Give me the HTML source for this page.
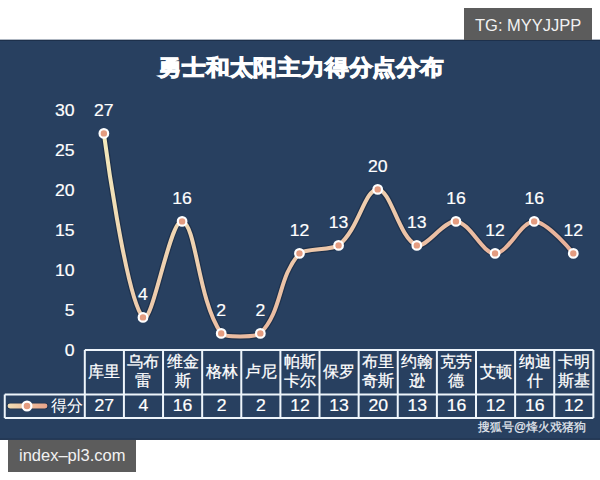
<!DOCTYPE html>
<html><head><meta charset="utf-8"><style>
html,body{margin:0;padding:0;width:600px;height:480px;overflow:hidden;background:#ffffff;position:relative}
svg text{font-family:"Liberation Sans",sans-serif}
.num{font-size:15.6px;fill:#ffffff;stroke:#ffffff;stroke-width:0.2px}
.cj{font-size:15.5px;fill:#ffffff;stroke:#ffffff;stroke-width:0.25px}
.badge{position:absolute;background:#5c5c5c;color:#f2f2f2;font-family:"Liberation Sans",sans-serif;font-size:16.5px;line-height:1;white-space:nowrap}
</style></head><body>
<svg width="600" height="480" viewBox="0 0 600 480" style="position:absolute;left:0;top:0">
<defs><linearGradient id="lg" gradientUnits="objectBoundingBox" x1="0" y1="0" x2="1" y2="1">
<stop offset="0" stop-color="#f3eabc"/><stop offset="0.45" stop-color="#eecdae"/><stop offset="1" stop-color="#e49c8a"/></linearGradient>
<linearGradient id="lk" gradientUnits="userSpaceOnUse" x1="8" y1="0" x2="47" y2="0">
<stop offset="0" stop-color="#f0dcb4"/><stop offset="1" stop-color="#e8a48a"/></linearGradient></defs>
<rect x="0" y="39.8" width="600" height="400" fill="#284060"/>
<rect x="0" y="39.8" width="600" height="1.2" fill="#1d304b"/>
<rect x="0" y="438.6" width="600" height="1.2" fill="#1d304b"/>
<text transform="translate(301 74.8) scale(1 0.93)" text-anchor="middle" font-size="24" font-weight="bold" fill="#ffffff" stroke="#ffffff" stroke-width="1.1">勇士和太阳主力得分点分布</text>
<text transform="translate(74.5 355.5) scale(1.13 1)" text-anchor="end" class="num">0</text>
<text transform="translate(74.5 315.5) scale(1.13 1)" text-anchor="end" class="num">5</text>
<text transform="translate(74.5 275.5) scale(1.13 1)" text-anchor="end" class="num">10</text>
<text transform="translate(74.5 235.5) scale(1.13 1)" text-anchor="end" class="num">15</text>
<text transform="translate(74.5 195.5) scale(1.13 1)" text-anchor="end" class="num">20</text>
<text transform="translate(74.5 155.5) scale(1.13 1)" text-anchor="end" class="num">25</text>
<text transform="translate(74.5 115.5) scale(1.13 1)" text-anchor="end" class="num">30</text>
<path d="M103.86 133.40 C103.86 133.40 125.54 297.79 142.98 317.40 C152.15 327.71 169.80 218.89 182.10 221.40 C196.41 224.33 197.55 299.52 221.22 333.40 C224.16 337.60 256.43 337.40 260.34 333.40 C283.03 310.20 277.26 278.36 299.46 253.40 C303.87 248.44 332.77 250.15 338.58 245.40 C359.37 228.39 364.40 189.40 377.70 189.40 C391.00 189.40 398.86 238.06 416.82 245.40 C425.46 248.94 444.15 220.19 455.94 221.40 C470.76 222.91 481.76 253.40 495.06 253.40 C508.36 253.40 520.88 221.40 534.18 221.40 C547.48 221.40 573.30 253.40 573.30 253.40" fill="none" stroke="#16243a" stroke-opacity="0.55" stroke-width="6.5" stroke-linecap="round"/>
<path d="M103.86 133.40 C103.86 133.40 125.54 297.79 142.98 317.40 C152.15 327.71 169.80 218.89 182.10 221.40 C196.41 224.33 197.55 299.52 221.22 333.40 C224.16 337.60 256.43 337.40 260.34 333.40 C283.03 310.20 277.26 278.36 299.46 253.40 C303.87 248.44 332.77 250.15 338.58 245.40 C359.37 228.39 364.40 189.40 377.70 189.40 C391.00 189.40 398.86 238.06 416.82 245.40 C425.46 248.94 444.15 220.19 455.94 221.40 C470.76 222.91 481.76 253.40 495.06 253.40 C508.36 253.40 520.88 221.40 534.18 221.40 C547.48 221.40 573.30 253.40 573.30 253.40" fill="none" stroke="url(#lg)" stroke-width="4" stroke-linecap="round"/>
<circle cx="103.86" cy="133.40" r="4.3" fill="#e49c80" stroke="#ffffff" stroke-width="2.2"/>
<text transform="translate(103.86 116.0) scale(1.13 1)" text-anchor="middle" class="num">27</text>
<circle cx="142.98" cy="317.40" r="4.3" fill="#e49c80" stroke="#ffffff" stroke-width="2.2"/>
<text transform="translate(142.98 300.0) scale(1.13 1)" text-anchor="middle" class="num">4</text>
<circle cx="182.10" cy="221.40" r="4.3" fill="#e49c80" stroke="#ffffff" stroke-width="2.2"/>
<text transform="translate(182.10 204.0) scale(1.13 1)" text-anchor="middle" class="num">16</text>
<circle cx="221.22" cy="333.40" r="4.3" fill="#e49c80" stroke="#ffffff" stroke-width="2.2"/>
<text transform="translate(221.22 316.0) scale(1.13 1)" text-anchor="middle" class="num">2</text>
<circle cx="260.34" cy="333.40" r="4.3" fill="#e49c80" stroke="#ffffff" stroke-width="2.2"/>
<text transform="translate(260.34 316.0) scale(1.13 1)" text-anchor="middle" class="num">2</text>
<circle cx="299.46" cy="253.40" r="4.3" fill="#e49c80" stroke="#ffffff" stroke-width="2.2"/>
<text transform="translate(299.46 236.0) scale(1.13 1)" text-anchor="middle" class="num">12</text>
<circle cx="338.58" cy="245.40" r="4.3" fill="#e49c80" stroke="#ffffff" stroke-width="2.2"/>
<text transform="translate(338.58 228.0) scale(1.13 1)" text-anchor="middle" class="num">13</text>
<circle cx="377.70" cy="189.40" r="4.3" fill="#e49c80" stroke="#ffffff" stroke-width="2.2"/>
<text transform="translate(377.70 172.0) scale(1.13 1)" text-anchor="middle" class="num">20</text>
<circle cx="416.82" cy="245.40" r="4.3" fill="#e49c80" stroke="#ffffff" stroke-width="2.2"/>
<text transform="translate(416.82 228.0) scale(1.13 1)" text-anchor="middle" class="num">13</text>
<circle cx="455.94" cy="221.40" r="4.3" fill="#e49c80" stroke="#ffffff" stroke-width="2.2"/>
<text transform="translate(455.94 204.0) scale(1.13 1)" text-anchor="middle" class="num">16</text>
<circle cx="495.06" cy="253.40" r="4.3" fill="#e49c80" stroke="#ffffff" stroke-width="2.2"/>
<text transform="translate(495.06 236.0) scale(1.13 1)" text-anchor="middle" class="num">12</text>
<circle cx="534.18" cy="221.40" r="4.3" fill="#e49c80" stroke="#ffffff" stroke-width="2.2"/>
<text transform="translate(534.18 204.0) scale(1.13 1)" text-anchor="middle" class="num">16</text>
<circle cx="573.30" cy="253.40" r="4.3" fill="#e49c80" stroke="#ffffff" stroke-width="2.2"/>
<text transform="translate(573.30 236.0) scale(1.13 1)" text-anchor="middle" class="num">12</text>
<g stroke="#eef5fb" stroke-width="2" fill="none"><path d="M84.8 350 H593.4 M4.75 394.5 H593.4 M4.75 418 H593.4" /><path d="M4.75 394.5 V418"/><path d="M84.80 350.0 V418"/><path d="M123.92 350.0 V418"/><path d="M163.04 350.0 V418"/><path d="M202.16 350.0 V418"/><path d="M241.28 350.0 V418"/><path d="M280.40 350.0 V418"/><path d="M319.52 350.0 V418"/><path d="M358.64 350.0 V418"/><path d="M397.76 350.0 V418"/><path d="M436.88 350.0 V418"/><path d="M476.00 350.0 V418"/><path d="M515.12 350.0 V418"/><path d="M554.24 350.0 V418"/><path d="M593.36 350.0 V418"/></g>
<text x="104.36" y="377.2" text-anchor="middle" class="cj">库里</text>
<text transform="translate(104.36 410.7) scale(1.13 1)" text-anchor="middle" class="num">27</text>
<text x="143.48" y="367.1" text-anchor="middle" class="cj">乌布</text>
<text x="143.48" y="385.5" text-anchor="middle" class="cj">雷</text>
<text transform="translate(143.48 410.7) scale(1.13 1)" text-anchor="middle" class="num">4</text>
<text x="182.60" y="367.1" text-anchor="middle" class="cj">维金</text>
<text x="182.60" y="385.5" text-anchor="middle" class="cj">斯</text>
<text transform="translate(182.60 410.7) scale(1.13 1)" text-anchor="middle" class="num">16</text>
<text x="221.72" y="377.2" text-anchor="middle" class="cj">格林</text>
<text transform="translate(221.72 410.7) scale(1.13 1)" text-anchor="middle" class="num">2</text>
<text x="260.84" y="377.2" text-anchor="middle" class="cj">卢尼</text>
<text transform="translate(260.84 410.7) scale(1.13 1)" text-anchor="middle" class="num">2</text>
<text x="299.96" y="367.1" text-anchor="middle" class="cj">帕斯</text>
<text x="299.96" y="385.5" text-anchor="middle" class="cj">卡尔</text>
<text transform="translate(299.96 410.7) scale(1.13 1)" text-anchor="middle" class="num">12</text>
<text x="339.08" y="377.2" text-anchor="middle" class="cj">保罗</text>
<text transform="translate(339.08 410.7) scale(1.13 1)" text-anchor="middle" class="num">13</text>
<text x="378.20" y="367.1" text-anchor="middle" class="cj">布里</text>
<text x="378.20" y="385.5" text-anchor="middle" class="cj">奇斯</text>
<text transform="translate(378.20 410.7) scale(1.13 1)" text-anchor="middle" class="num">20</text>
<text x="417.32" y="367.1" text-anchor="middle" class="cj">约翰</text>
<text x="417.32" y="385.5" text-anchor="middle" class="cj">逊</text>
<text transform="translate(417.32 410.7) scale(1.13 1)" text-anchor="middle" class="num">13</text>
<text x="456.44" y="367.1" text-anchor="middle" class="cj">克劳</text>
<text x="456.44" y="385.5" text-anchor="middle" class="cj">德</text>
<text transform="translate(456.44 410.7) scale(1.13 1)" text-anchor="middle" class="num">16</text>
<text x="495.56" y="377.2" text-anchor="middle" class="cj">艾顿</text>
<text transform="translate(495.56 410.7) scale(1.13 1)" text-anchor="middle" class="num">12</text>
<text x="534.68" y="367.1" text-anchor="middle" class="cj">纳迪</text>
<text x="534.68" y="385.5" text-anchor="middle" class="cj">什</text>
<text transform="translate(534.68 410.7) scale(1.13 1)" text-anchor="middle" class="num">16</text>
<text x="573.80" y="367.1" text-anchor="middle" class="cj">卡明</text>
<text x="573.80" y="385.5" text-anchor="middle" class="cj">斯基</text>
<text transform="translate(573.80 410.7) scale(1.13 1)" text-anchor="middle" class="num">12</text>
<line x1="10" y1="406" x2="45" y2="406" stroke="#16243a" stroke-opacity="0.5" stroke-width="6.5" stroke-linecap="round"/><line x1="10" y1="406" x2="45" y2="406" stroke="url(#lk)" stroke-width="4.8" stroke-linecap="round"/>
<circle cx="27" cy="406" r="4.4" fill="#e49c80" stroke="#ffffff" stroke-width="2.2"/>
<text x="66.5" y="411" text-anchor="middle" font-size="15.5" fill="#ffffff">得分</text>
<text x="478" y="431" font-size="12" fill="#e6eaf0" stroke="#e6eaf0" stroke-width="0.2">搜狐号@烽火戏猪狗</text>
</svg>
<div class="badge" style="left:464px;top:8px;width:128px;height:32px;"><span style="position:absolute;left:11px;top:9px">TG: MYYJJPP</span></div>
<div class="badge" style="left:8px;top:439.5px;width:128px;height:32px;"><span style="position:absolute;left:11px;top:7px">index–pl3.com</span></div>
</body></html>
